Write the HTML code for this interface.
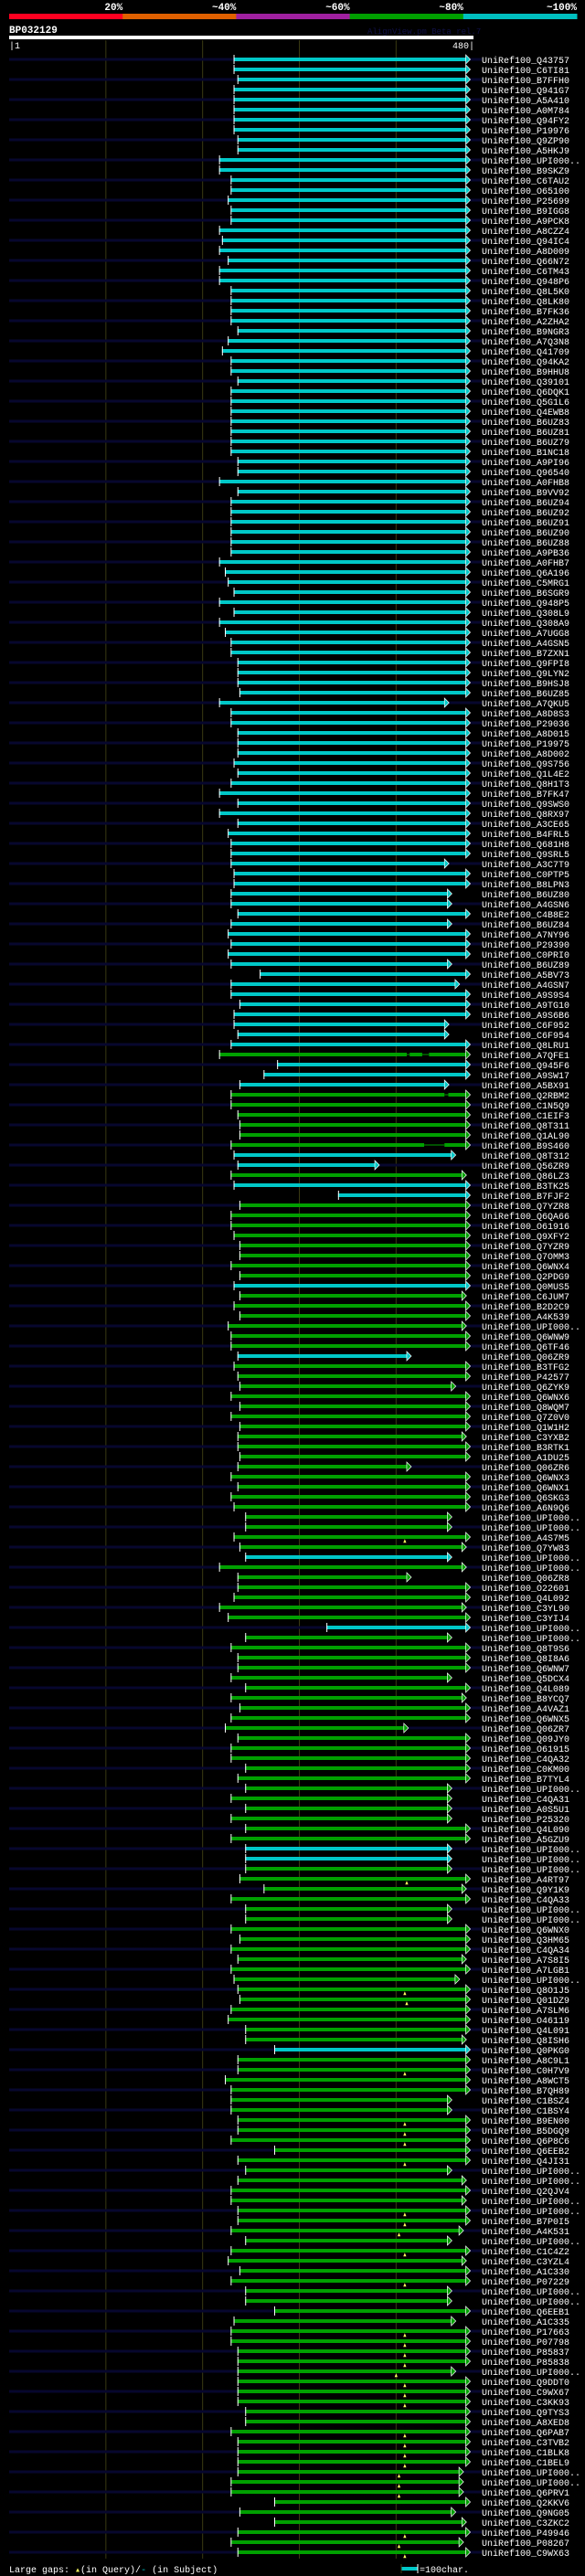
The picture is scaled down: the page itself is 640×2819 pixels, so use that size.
<!DOCTYPE html>
<html><head><meta charset="utf-8"><style>
html,body{margin:0;padding:0;background:#000;}
svg{display:block;}
text{font-family:"Liberation Mono","DejaVu Sans Mono",monospace;}
</style></head><body>
<svg id="chart" width="640" height="2819" viewBox="0 0 640 2819" xmlns="http://www.w3.org/2000/svg">
<rect x="0" y="0" width="640" height="2819" fill="#000"/>
</svg>
<script>
const rowIds = ["Q43757","C6TI81","B7FFH0","Q941G7","A5A410","A0M784","Q94FY2","P19976","Q9ZP90","A5HKJ9","UPI000..","B9SKZ9","C6TAU2","O65100","P25699","B9IGG8","A9PCK8","A8CZZ4","Q94IC4","A8D009","Q66N72","C6TM43","Q948P6","Q8L5K0","Q8LK80","B7FK36","A2ZHA2","B9NGR3",
"A7Q3N8","Q41709","Q94KA2","B9HHU8","Q39101","Q6DQK1","Q5G1L6","Q4EWB8","B6UZ83","B6UZ81","B6UZ79","B1NC18","A9PI96","Q96540","A0FHB8","B9VV92","B6UZ94","B6UZ92","B6UZ91","B6UZ90","B6UZ88","A9PB36","A0FHB7","Q6A196","C5MRG1","B6SGR9","Q948P5","Q308L9",
"Q308A9","A7UGG8","A4GSN5","B7ZXN1","Q9FPI8","Q9LYN2","B9HSJ8","B6UZ85","A7QKU5","A8D8S3","P29036","A8D015","P19975","A8D002","Q9S756","Q1L4E2","Q8H1T3","B7FK47","Q9SWS0","Q8RX97","A3CE65","B4FRL5","Q681H8","Q9SRL5","A3C7T9","C0PTP5","B8LPN3","B6UZ80",
"A4GSN6","C4B8E2","B6UZ84","A7NY96","P29390","C0PRI0","B6UZ89","A5BV73","A4GSN7","A9S9S4","A9TG10","A9S6B6","C6F952","C6F954","Q8LRU1","A7QFE1","Q945F6","A9SW17","A5BX91","Q2RBM2","C1N5Q9","C1EIF3","Q8T311","Q1AL90","B9S460","Q8T312","Q56ZR9","Q86LZ3",
"B3TK25","B7FJF2","Q7YZR8","Q6QA66","O61916","Q9XFY2","Q7YZR9","Q7OMM3","Q6WNX4","Q2PDG9","Q0MUS5","C6JUM7","B2D2C9","A4K539","UPI000..","Q6WNW9","Q6TF46","Q06ZR9","B3TFG2","P42577","Q6ZYK9","Q6WNX6","Q8WQM7","Q7Z0V0","Q1W1H2","C3YXB2","B3RTK1","A1DU25",
"Q06ZR6","Q6WNX3","Q6WNX1","Q6SKG3","A6N9Q6","UPI000..","UPI000..","A4S7M5","Q7YW83","UPI000..","UPI000..","Q06ZR8","O22601","Q4L092","C3YL90","C3YIJ4","UPI000..","UPI000..","Q8T9S6","Q8I8A6","Q6WNW7","Q5DCX4","Q4L089","B8YCQ7","A4VAZ1","Q6WNX5","Q06ZR7","Q09JY0",
"O61915","C4QA32","C0KM00","B7TYL4","UPI000..","C4QA31","A0S5U1","P25320","Q4L090","A5GZU9","UPI000..","UPI000..","UPI000..","A4RT97","Q9Y1K9","C4QA33","UPI000..","UPI000..","Q6WNX0","Q3HM65","C4QA34","A7S8I5","A7LGB1","UPI000..","Q8O1J5","Q01DZ9","A7SLM6","O46119",
"Q4L091","Q8ISH6","Q0PKG0","A8C9L1","C0H7V9","A8WCT5","B7QH89","C1BSZ4","C1BSY4","B9EN00","B5DGQ9","Q6P8C6","Q6EEB2","Q4JI31","UPI000..","UPI000..","Q2QJV4","UPI000..","UPI000..","B7P0I5","A4K531","UPI000..","C1C4Z2","C3YZL4","A1C330","P07229","UPI000..","UPI000..",
"Q6EEB1","A1C335","P17663","P07798","P85837","P85838","UPI000..","Q9DDT0","C9WX67","C3KK93","Q9TYS3","A8XED8","Q6PAB7","C3TVB2","C1BLK8","C1BEL9","UPI000..","UPI000..","Q6PRV1","Q2KKV6","Q9NG05","C3ZKC2","P49946","P08267","C9WX63"];

const startPos = [232,232,236,232,232,232,232,232,236,236,217,217,229,229,226,229,229,217,220,217,226,217,217,229,229,229,229,236,
226,220,229,229,236,229,229,229,229,229,229,229,236,236,217,236,229,229,229,229,229,229,217,223,226,232,217,232,
217,223,229,229,236,236,236,238,217,229,229,236,236,236,232,236,229,217,236,217,236,226,229,229,229,232,232,229,
229,236,229,226,229,226,229,259,229,229,238,232,232,236,229,217,277,263,238,229,229,236,238,238,229,232,236,229,
232,340,238,229,229,232,238,238,229,238,232,238,232,238,226,229,229,236,232,236,238,229,238,229,238,236,236,238,
236,229,236,229,232,244,244,232,238,244,217,236,236,232,217,226,328,244,229,236,236,229,244,229,238,229,223,236,
229,229,244,236,244,229,244,229,244,229,244,244,244,238,263,229,244,244,229,238,229,236,229,232,236,238,229,226,
244,244,274,236,236,223,229,229,229,236,236,229,274,236,244,236,229,229,236,236,229,244,229,226,238,229,244,244,
274,232,229,229,236,236,236,236,236,236,244,244,229,236,236,236,236,229,229,274,238,274,236,229,236];

const endPos = [472,472,472,472,472,472,472,472,472,472,472,472,472,472,472,472,472,472,472,472,472,472,472,472,472,472,472,472,
472,472,472,472,472,472,472,472,472,472,472,472,472,472,472,472,472,472,472,472,472,472,472,472,472,472,472,472,
472,472,472,472,472,472,472,472,450,472,472,472,472,472,472,472,472,472,472,472,472,472,472,472,450,472,472,453,
453,472,453,472,472,472,453,472,461,472,472,472,450,450,472,472,472,472,450,472,472,472,472,472,472,457,378,468,
472,472,472,472,472,472,472,472,472,472,472,468,472,472,468,472,472,411,472,472,457,472,472,472,472,468,472,472,
411,472,472,472,472,453,453,472,468,453,468,411,472,472,468,472,472,453,472,472,472,453,472,468,472,472,408,472,
472,472,472,472,453,453,453,453,472,472,453,453,453,472,468,472,453,453,472,472,472,468,472,461,472,472,472,472,
472,468,472,472,472,472,472,453,453,472,472,472,472,472,453,468,472,468,472,472,465,453,472,468,472,472,453,453,
472,457,472,472,472,472,457,472,472,472,472,472,472,472,472,472,465,465,465,472,457,468,472,465,472];

const colorCodes = "c".repeat(99)+"g"+"ccc"+"gggggg"+"cc"+"g"+"cc"+"gggggggg"+"c"+"gggggg"+"c"+"g".repeat(19)+"c"+"gggggg"+"c"+"g".repeat(21)+"cc"+"g".repeat(18)+"c"+"g".repeat(50);

const queryGapRows = [148,182,193,194,201,206,207,208,210,215,216,217,219,222,227,228,229,230,231,232,233,234,237,238,239,240,241,242,243,247,248,249];
const queryGapPos  = [409,411,409,411,409,409,409,409,409,409,409,403,409,409,409,409,409,409,400,409,409,409,409,409,409,409,403,403,403,409,403,409];

const subjGapRows  = [100,100,104,109];
const subjGapFrom  = [411,427,450,429];
const subjGapTo    = [414,434,454,450];

const pctLabels = ["20%","~40%","~60%","~80%","~100%"];
const pctColors = ["#ff0020","#e06000","#a020a0","#00a000","#00c0c0"];
const gridTicks = [100,200,300,400];

const NS="http://www.w3.org/2000/svg";
const svg=document.getElementById('chart');
const X0=10, X1=518, QLEN=480, ROW0=65, ROWH=11;
function xScale(p){return X0+p*(X1-X0)/QLEN;}
function yRow(i){return ROW0+i*ROWH;}
function mk(tag,attrs,parent){const e=document.createElementNS(NS,tag);for(const k in attrs)e.setAttribute(k,attrs[k]);(parent||svg).appendChild(e);return e;}
const COL={c:"#00c8c8",g:"#00a000"};

// header colour bar
const segW=(631-10)/pctLabels.length;
for(let k=0;k<pctLabels.length;k++){
  const r=mk('rect',{x:10+k*segW,y:15,width:segW+0.5,height:6,fill:pctColors[k]});
  
  
  const t=mk('text',{x:10+(k+1)*segW,y:11,'text-anchor':'end','font-size':'11','font-weight':'bold',fill:'#fff'});
  t.textContent=pctLabels[k];
  
  
}
const title=mk('text',{x:10,y:36,'font-size':'11','font-weight':'bold',fill:'#fff'});
title.textContent="BP032129";


const av=mk('text',{x:402,y:37,'font-size':'9',fill:'#101048'});
av.textContent="AlignView.pm Beta rel.7";


const qbar=mk('rect',{x:X0,y:39,width:X1-X0,height:4,fill:'#fff'});


const t1=mk('text',{x:X0,y:53,'font-size':'10',fill:'#fff'});
t1.textContent="|1";


const t2=mk('text',{x:X1+1,y:53,'font-size':'10',fill:'#fff','text-anchor':'end'});
t2.textContent=QLEN+"|";



// gridlines
for(const g of gridTicks){
  const l=mk('line',{x1:xScale(g),x2:xScale(g),y1:44,y2:2800,stroke:'#3a3a12','stroke-width':1});
  
  
}

// rows
for(let i=0;i<rowIds.length;i++){
  const y=yRow(i), c=COL[colorCodes[i]];
  const xs=xScale(startPos[i]), xe=xScale(endPos[i]);
  const grp=mk('g',{});
  
  
  if(i%2===0){
    mk('rect',{x:X0,y:y-1.5,width:527-X0,height:3,fill:'#07072e'},grp);
  }
  const bar=mk('rect',{x:xs,y:y-2,width:xe-xs,height:4,fill:c},grp);
  
  
  mk('line',{x1:xs+0.5,x2:xs+0.5,y1:y-5,y2:y+5,stroke:'#fff','stroke-width':1},grp);
  mk('polygon',{points:`${xe},${y-5} ${xe+5},${y} ${xe},${y+5}`,fill:c,stroke:'#fff','stroke-width':0.7},grp);
  const lb=mk('text',{x:527,y:y+4,'font-size':'10',fill:'#fff'},grp);
  lb.textContent="UniRef100_"+rowIds[i];
  
  
}
// subject gaps
for(let k=0;k<subjGapRows.length;k++){
  const i=subjGapRows[k]-1, y=yRow(i);
  const a=xScale(subjGapFrom[k]), b=xScale(subjGapTo[k]);
  mk('rect',{x:a,y:y-2,width:b-a,height:4,fill:'#000'});
  const s=mk('rect',{x:a,y:y-0.5,width:b-a,height:1,fill:COL[colorCodes[i]]});
  
  
}
// query gaps
for(let k=0;k<queryGapRows.length;k++){
  const y=yRow(queryGapRows[k]-1), x=xScale(queryGapPos[k]);
  const m=mk('polygon',{points:`${x-1.2},${y+6} ${x},${y+3} ${x+1.2},${y+6}`,fill:'#ffff60',stroke:'#ffff60','stroke-width':0.6});
  
  
}

// footer
const ft=mk('text',{x:10,y:2815,'font-size':'10',fill:'#fff'});


ft.innerHTML='Large gaps: <tspan fill="#ffff60">\u25B4</tspan>(in Query)/<tspan fill="#00c8c8">-</tspan> (in Subject)';
const sb=mk('rect',{x:439,y:2809,width:18,height:4,fill:'#00c8c8'});


mk('line',{x1:439,x2:439,y1:2806,y2:2816,stroke:'#3a3a12'});
mk('line',{x1:457,x2:457,y1:2806,y2:2816,stroke:'#fff'});
const st=mk('text',{x:459,y:2815,'font-size':'10',fill:'#fff'});
st.textContent="=100char.";


</script>
</body></html>
